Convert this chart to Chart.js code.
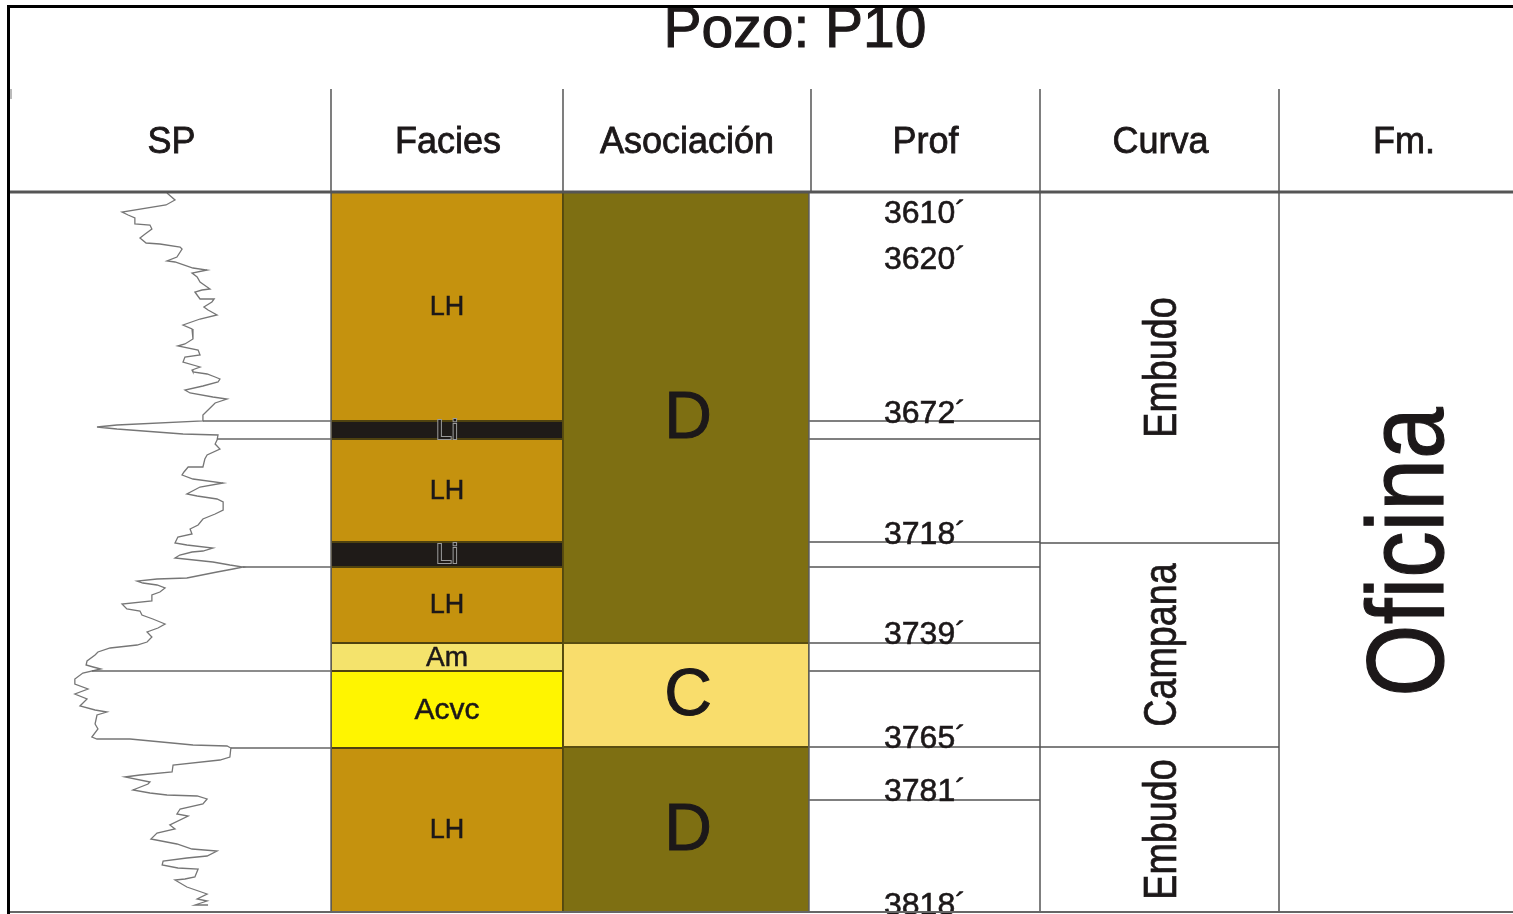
<!DOCTYPE html>
<html lang="es">
<head>
<meta charset="utf-8">
<title>Pozo: P10</title>
<script src="https://cdn.jsdelivr.net/npm/chart.js@4.4.1/dist/chart.umd.min.js"></script>
<style>
  html, body { margin: 0; padding: 0; background: #ffffff; }
  #wrap { width: 1513px; height: 914px; }
</style>
</head>
<body>
<div id="wrap"><canvas id="log" width="1513" height="914"></canvas></div>
<script>
// ---- Section data (vertical position in track units, 0 = top of logged interval) ----
const TRACK_LENGTH = 720;

// SP curve: [track position, SP reading on a 0-100 relative scale]
const spLog = [
  [1,48.9],[8,51.4],[13,48.6],[20,34.9],[23,36.8],[26,38.9],[32,38.9],[33,43.6],[37,44.2],[42,42.1],
  [46,40.5],[51,42.4],[52,46.7],[55,53.0],[57,53.6],[65,52.0],[69,48.9],[70,51.4],[76,57.0],[78,61.4],
  [81,56.7],[85,58.3],[90,59.2],[97,62.3],[98,59.8],[100,57.6],[107,59.2],[107,63.6],[110,62.9],[115,60.4],
  [118,61.7],[123,64.5],[127,59.2],[133,53.9],[137,56.7],[147,57.0],[152,54.5],[154,52.3],[158,58.6],[163,59.2],
  [165,54.5],[170,53.9],[175,59.2],[178,56.7],[180,57.0],[182,61.4],[185,63.9],[187,65.4],[190,64.8],[194,60.1],
  [198,54.5],[201,56.1],[205,63.2],[207,67.6],[211,63.9],[218,61.7],[223,60.1],[229,60.1],[233,33.3],[235,27.1],
  [237,33.3],[242,53.9],[243,64.8],[248,64.5],[252,63.9],[257,65.4],[263,61.4],[267,60.7],[275,60.1],[275,55.5],
  [280,54.2],[283,53.6],[287,57.0],[291,66.4],[295,59.2],[302,55.1],[304,58.3],[307,64.5],[310,66.4],[318,66.4],
  [322,63.9],[327,60.1],[333,58.6],[337,56.1],[342,56.7],[345,52.3],[351,51.4],[353,55.1],[356,63.2],[359,60.1],
  [360,56.7],[363,52.9],[366,51.4],[370,63.2],[373,68.5],[375,72.6],[377,69.5],[380,64.5],[386,55.1],[387,45.8],
  [389,39.6],[391,41.4],[393,45.8],[396,48.3],[400,46.7],[403,44.2],[409,44.2],[412,34.9],[417,36.4],[419,40.5],
  [423,41.1],[427,44.5],[432,48.3],[436,46.1],[440,42.7],[445,44.2],[450,42.7],[453,39.6],[456,31.2],[460,27.4],
  [463,26.5],[469,24.0],[473,23.7],[475,25.9],[477,28.3],[481,22.7],[487,20.2],[492,20.2],[497,24.3],[502,20.2],
  [507,24.0],[514,21.8],[518,26.5],[520,30.2],[523,27.1],[532,26.5],[537,27.4],[545,25.5],[547,27.1],[547,37.4],
  [553,57.0],[554,67.6],[556,68.8],[565,68.5],[568,65.4],[573,50.8],[580,50.5],[583,40.5],[585,35.8],[590,43.6],
  [592,43.0],[598,38.3],[601,43.6],[603,48.9],[604,58.3],[607,61.4],[612,60.1],[617,53.0],[622,52.0],[624,55.5],
  [633,49.8],[637,51.4],[641,45.8],[647,43.9],[652,52.0],[657,56.7],[659,64.5],[664,61.4],[666,55.1],[669,47.7],
  [673,47.4],[676,52.3],[677,58.6],[685,57.6],[687,54.5],[688,51.4],[695,55.1],[702,61.4],[707,58.3],[709,61.4],
  [713,57.6],[713,61.7]
];

// Facies intervals
const faciesCode = ['LH', 'Li', 'LH', 'Li', 'LH', 'Am', 'Acvc', 'LH'];
const faciesTop  = [0,   229, 247, 350, 375, 451, 479, 556];
const faciesBase = [229, 247, 350, 375, 451, 479, 556, 720];

// Facies association intervals
const assocCode = ['D', 'C', 'D'];
const assocTop  = [0,   451, 555];
const assocBase = [451, 555, 720];

// Depth column: boundary lines and depth labels (feet)
const profLineAt  = [229, 247, 350, 375, 451, 479, 555, 608];
const profDepth   = [3610, 3620, 3672, 3718, 3739, 3765, 3781, 3818];
const profLabelAt = [30, 76, 230, 351, 451, 555, 608, 722];

// SP curve shape
const curvaName = ['Embudo', 'Campana', 'Embudo'];
const curvaTop  = [0,   351, 555];
const curvaBase = [351, 555, 720];

// Formation
const fmName = 'Oficina';

// Facies boundaries carried across the SP track
const spTieAt = [229, 247, 375, 479, 556];

// Column headers
const headers = ['SP', 'Facies', 'Asociación', 'Prof', 'Curva', 'Fm.'];

// ---- Layout and styling ----
const FONT = '"Liberation Sans", Arial, Helvetica, sans-serif';
const INK = '#1c1819';
const COLS = {              // column extents on the layout axis
  sp: [0, 321], facies: [321, 553], assoc: [553, 799],
  prof: [799, 1030], curva: [1030, 1269], fm: [1269, 1517]
};
const LAYOUT_WIDTH = 1503;
const HEADER_TOP = 89, HEADER_BASE = 192, TITLE_BASE = 47;
const FACIES_STYLE = {
  LH:   { fill: '#c5920e', text: INK,  size: 27 },
  Li:   { fill: '#1f1b18', text: null, size: 28 },
  Am:   { fill: '#f4e36c', text: INK,  size: 28 },
  Acvc: { fill: '#fff500', text: INK,  size: 30 }
};
const ASSOC_STYLE = { D: '#7e6f12', C: '#f9dd6c' };

function spAt(t) {
  for (let i = 0; i < spLog.length - 1; i++) {
    const [t0, v0] = spLog[i], [t1, v1] = spLog[i + 1];
    if (t >= t0 && t <= t1) return t1 === t0 ? v1 : v0 + (v1 - v0) * (t - t0) / (t1 - t0);
  }
  return spLog[spLog.length - 1][1];
}

function hLine(ctx, x0, x1, y, color, w) {
  ctx.beginPath(); ctx.strokeStyle = color; ctx.lineWidth = w;
  ctx.moveTo(x0, y); ctx.lineTo(x1, y); ctx.stroke();
}
function vLine(ctx, x, y0, y1, color, w) {
  ctx.beginPath(); ctx.strokeStyle = color; ctx.lineWidth = w;
  ctx.moveTo(x, y0); ctx.lineTo(x, y1); ctx.stroke();
}
// slightly heavier text, as printed
function inkText(ctx, text, x, y, weight) {
  ctx.fillStyle = INK; ctx.fillText(text, x, y);
  ctx.strokeStyle = INK; ctx.lineWidth = weight; ctx.strokeText(text, x, y);
}
function rotText(ctx, text, cx, cy, size, squeeze, weight) {
  ctx.save();
  ctx.translate(cx, cy);
  ctx.rotate(-Math.PI / 2);
  ctx.scale(squeeze, 1);
  ctx.font = size + 'px ' + FONT;
  ctx.textAlign = 'center'; ctx.textBaseline = 'alphabetic';
  // centre the glyphs (cap height) on the column, not the em box
  inkText(ctx, text, 0, size * 0.36, weight);
  ctx.restore();
}

const wellLog = {
  id: 'wellLog',
  beforeDatasetsDraw(chart) {
    const { ctx, scales: { x, y } } = chart;
    const X = v => x.getPixelForValue(v), Y = v => y.getPixelForValue(v);
    ctx.save();

    // facies column
    faciesCode.forEach((code, i) => {
      const x0 = X(COLS.facies[0]), x1 = X(COLS.facies[1]);
      const y0 = Y(faciesTop[i]), y1 = Y(faciesBase[i]);
      ctx.fillStyle = FACIES_STYLE[code].fill;
      ctx.fillRect(x0, y0, x1 - x0, y1 - y0);
      ctx.strokeStyle = '#4f420f'; ctx.lineWidth = 1;
      ctx.strokeRect(x0 + 0.5, y0 + 0.5, x1 - x0 - 1, y1 - y0 - 1);
    });
    // association column
    assocCode.forEach((code, i) => {
      const x0 = X(COLS.assoc[0]), x1 = X(COLS.assoc[1]);
      const y0 = Y(assocTop[i]), y1 = Y(assocBase[i]);
      ctx.fillStyle = ASSOC_STYLE[code];
      ctx.fillRect(x0, y0, x1 - x0, y1 - y0);
      ctx.strokeStyle = '#5a4d10'; ctx.lineWidth = 1;
      ctx.strokeRect(x0 + 0.5, y0 + 0.5, x1 - x0 - 1, y1 - y0 - 1);
    });
    ctx.restore();
  },
  afterDatasetsDraw(chart) {
    const { ctx, scales: { x, y, xsp } } = chart;
    const X = v => x.getPixelForValue(v), Y = v => y.getPixelForValue(v);
    const top = Y(0), base = Y(TRACK_LENGTH);
    ctx.save();

    // facies labels
    faciesCode.forEach((code, i) => {
      const st = FACIES_STYLE[code];
      const cx = (X(COLS.facies[0]) + X(COLS.facies[1])) / 2;
      const cy = (Y(faciesTop[i]) + Y(faciesBase[i])) / 2;
      ctx.font = st.size + 'px ' + FONT;
      ctx.textAlign = 'center'; ctx.textBaseline = 'middle';
      if (st.text) {
        inkText(ctx, code, cx, cy + 1, 0.5);
      } else {
        ctx.lineWidth = 2; ctx.strokeStyle = '#9a9a9a';
        ctx.strokeText(code, cx, cy + 1);
        ctx.fillStyle = st.fill; ctx.fillText(code, cx, cy + 1);
      }
    });
    // association labels
    assocCode.forEach((code, i) => {
      const cx = (X(COLS.assoc[0]) + X(COLS.assoc[1])) / 2;
      const cy = (Y(assocTop[i]) + Y(assocBase[i])) / 2;
      ctx.font = '66px ' + FONT;
      ctx.textAlign = 'center'; ctx.textBaseline = 'middle';
      inkText(ctx, code, cx + 2, cy + 2, 1);
    });

    // facies boundaries carried across the SP track
    spTieAt.forEach(t => {
      hLine(ctx, xsp.getPixelForValue(spAt(t)), X(COLS.sp[1]), Y(t), '#666666', 1.5);
    });

    // depth column lines and labels
    profLineAt.forEach(t => hLine(ctx, X(COLS.prof[0]), X(COLS.prof[1]), Y(t), '#555555', 1.5));
    ctx.font = '32px ' + FONT;
    ctx.textAlign = 'left'; ctx.textBaseline = 'alphabetic';
    profDepth.forEach((d, i) => {
      inkText(ctx, d + '\u00b4', X(COLS.prof[0]) + 75, Y(profLabelAt[i]) + 1, 0.6);
    });

    // curve shape column
    curvaName.forEach((name, i) => {
      if (i > 0) hLine(ctx, X(COLS.curva[0]), X(COLS.curva[1]), Y(curvaTop[i]), '#555555', 1.5);
      const cx = (X(COLS.curva[0]) + X(COLS.curva[1])) / 2;
      const cy = (Y(curvaTop[i]) + Y(curvaBase[i])) / 2;
      rotText(ctx, name, cx, cy, 46, 0.82, 0.7);
    });

    // formation column
    rotText(ctx, fmName, (X(COLS.fm[0]) + X(COLS.fm[1])) / 2, (top + base) / 2, 110, 0.845, 1.2);

    // column dividers in the body
    vLine(ctx, X(COLS.facies[0]), top, base, '#666666', 1.5);
    vLine(ctx, X(COLS.assoc[0]), top, base, '#5a4d10', 1.2);
    vLine(ctx, X(COLS.prof[0]), top, base, '#666666', 1.5);
    vLine(ctx, X(COLS.curva[0]), top, base, '#555555', 1.5);
    vLine(ctx, X(COLS.fm[0]), top, base, '#555555', 1.5);
    hLine(ctx, X(0), X(LAYOUT_WIDTH), base, '#666666', 2);
    ctx.restore();
  },
  afterDraw(chart) {
    const { ctx, scales: { x } } = chart;
    const X = v => x.getPixelForValue(v);
    ctx.save();

    // title
    ctx.font = '57px ' + FONT;
    ctx.textAlign = 'center'; ctx.textBaseline = 'alphabetic';
    inkText(ctx, 'Pozo: P10', X(785), TITLE_BASE, 1);

    // header row
    const cols = [COLS.sp, COLS.facies, COLS.assoc, COLS.prof, COLS.curva, COLS.fm];
    ctx.font = '36px ' + FONT;
    headers.forEach((h, i) => {
      inkText(ctx, h, (X(cols[i][0]) + X(cols[i][1])) / 2 + 1, 153, 0.8);
    });
    [321, 553, 801, 1030, 1269].forEach(v => vLine(ctx, X(v), HEADER_TOP, HEADER_BASE, '#3a3a3a', 1.3));
    vLine(ctx, X(0) + 1, HEADER_TOP, HEADER_TOP + 10, '#777777', 1);
    hLine(ctx, X(0), X(LAYOUT_WIDTH), HEADER_BASE, '#555555', 3);

    // frame
    hLine(ctx, 7, 1513, 6.5, '#000000', 3);
    vLine(ctx, 8.5, 5, 914, '#000000', 3);
    ctx.restore();
  }
};

new Chart(document.getElementById('log'), {
  type: 'scatter',
  data: {
    datasets: [{
      label: 'SP',
      data: spLog.map(([t, v]) => ({ x: v, y: t })),
      xAxisID: 'xsp',
      yAxisID: 'y',
      showLine: true,
      borderColor: '#767676',
      borderWidth: 1.3,
      pointRadius: 0,
      tension: 0,
      fill: false
    }]
  },
  options: {
    responsive: false,
    animation: false,
    devicePixelRatio: 1,
    layout: { padding: { top: HEADER_BASE, left: 10, right: 0, bottom: 2 } },
    plugins: { legend: { display: false }, tooltip: { enabled: false }, title: { display: false } },
    scales: {
      x:   { type: 'linear', min: 0, max: LAYOUT_WIDTH, display: false },
      xsp: { type: 'linear', axis: 'x', position: 'bottom', min: 0,
             max: 100 * LAYOUT_WIDTH / (COLS.sp[1] - COLS.sp[0]), display: false },
      y:   { type: 'linear', min: 0, max: TRACK_LENGTH, reverse: true, display: false }
    }
  },
  plugins: [wellLog]
});
</script>
</body>
</html>
